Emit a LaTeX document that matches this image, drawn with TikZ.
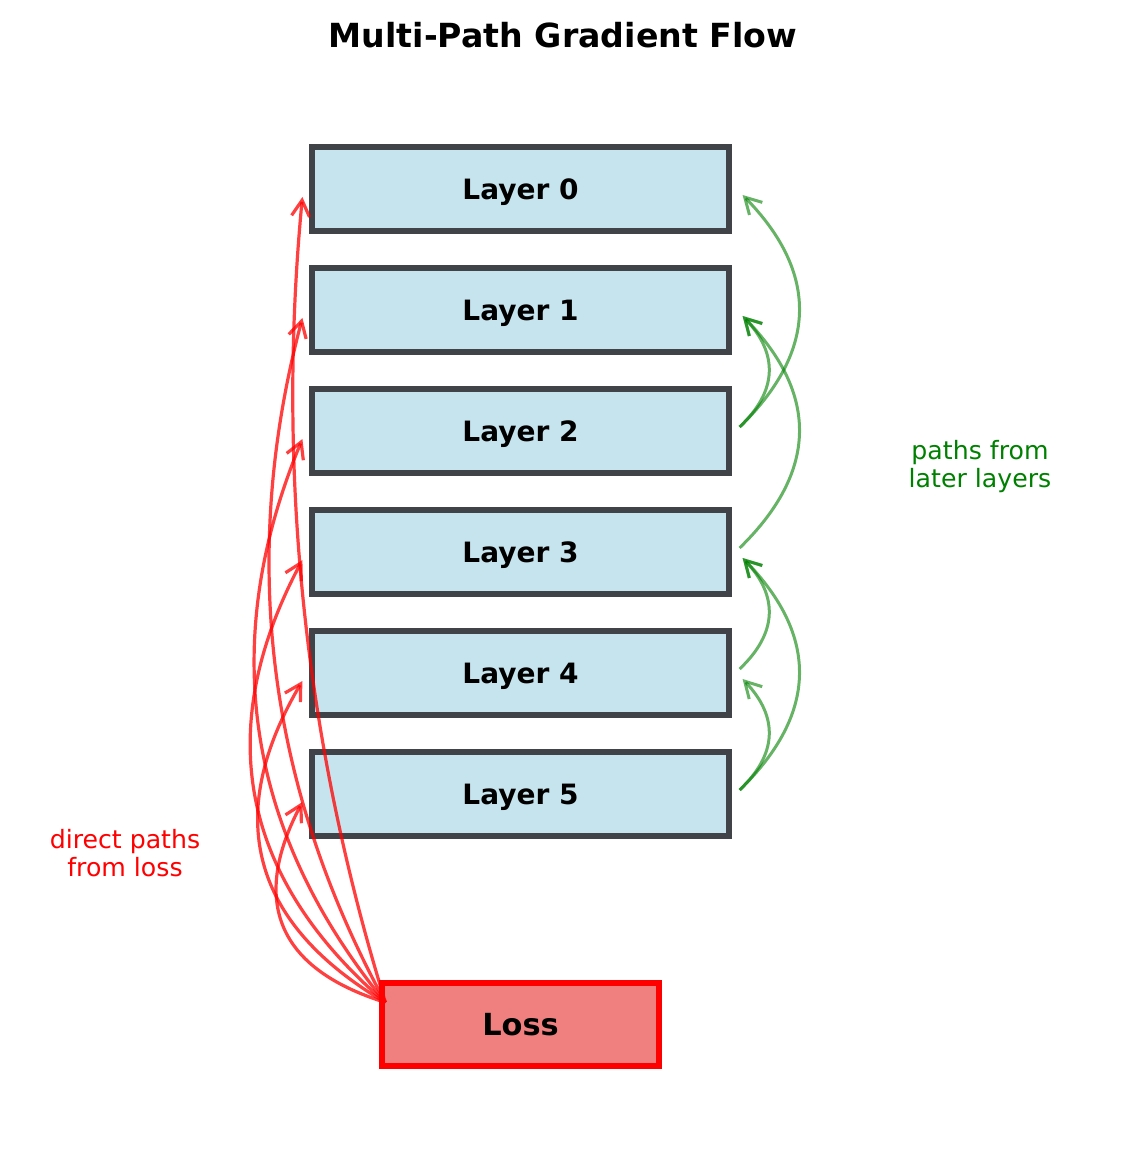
\documentclass[tikz,border=0pt]{standalone}
\usepackage{fontspec}
\setmainfont{DejaVu Sans}
\usetikzlibrary{arrows.meta,calc}
\definecolor{layerfill}{HTML}{C6E4EE}
\definecolor{layeredge}{HTML}{404448}
\definecolor{lossfill}{HTML}{F08080}
\definecolor{pathgreen}{HTML}{008000}
\tikzset{
  layerbox/.style={draw=layeredge,line width=2.6pt,fill=layerfill,inner sep=0pt,
    minimum width=208.5pt,minimum height=42pt,text height=10.2pt,text depth=0pt,
    font=\fontsize{14}{16}\selectfont\bfseries},
  lossbox/.style={draw=red,line width=2.6pt,fill=lossfill,inner sep=0pt,
    minimum width=138.5pt,minimum height=41.5pt,text height=11pt,text depth=0pt,
    font=\fontsize{15.2}{18}\selectfont\bfseries},
  redpath/.style={draw=red,draw opacity=0.75,line width=1.6pt,
    -{Straight Barb[length=8pt,width=9pt]}},
  greenpath/.style={draw=pathgreen,draw opacity=0.6,line width=1.5pt,
    -{Straight Barb[length=8pt,width=9pt]}},
  note/.style={align=center,font=\fontsize{12.6}{14}\selectfont}
}
\begin{document}
\begin{tikzpicture}[x=0.5pt,y=-0.5pt]
  \useasboundingbox (0,0) rectangle (1124,1160);
  \node[font=\fontsize{16.6}{20}\selectfont\bfseries] (title) at (563,35) {Multi-Path Gradient Flow};
  \foreach \i in {0,...,5} {
    \node[layerbox] (L\i) at (520.5,189+121*\i) {Layer \i};
    \coordinate (r\i) at ($(L\i.west)+(-7,8)$);
    \coordinate (g\i) at ($(L\i.east)+(8,-4)$);
    \coordinate (h\i) at ($(L\i.east)+(11,6)$);
  }
  \node[lossbox] (loss) at (520.5,1024.5) {Loss};
  \coordinate (src) at ($(loss.north west)+(6,22)$);
  \foreach \i in {0,...,5} {
    \pgfmathsetmacro\bendang{atan(0.2*(\i+1))}
    \pgfmathsetmacro\loose{0.8514*sqrt(1+0.04*(\i+1)^2)}
    \draw[redpath] (src) to[bend left=\bendang,looseness=\loose] (r\i);
  }
  \foreach \a/\b in {2/0,2/1,3/1,4/3,5/3,5/4}
    \draw[greenpath] (g\a) to[bend right=45,looseness=1.204] (h\b);
  \node[note,text=pathgreen] (greennote) at (980,467) {paths from\\later layers};
  \node[note,text=red] (rednote) at (125,853) {direct paths\\from loss};
\end{tikzpicture}
\end{document}
